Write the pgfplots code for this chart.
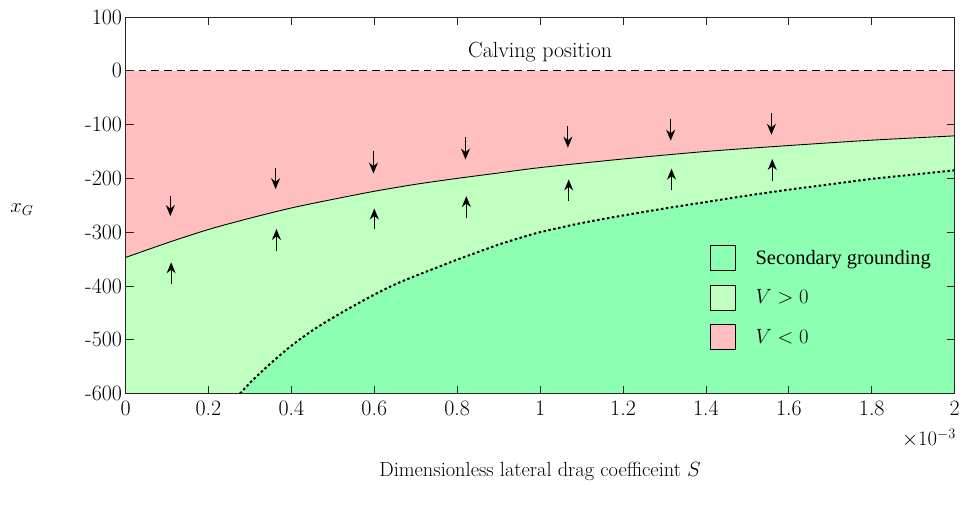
\documentclass[border=0pt]{standalone}
\usepackage{fontspec}
\usepackage{pgfplots}
\pgfplotsset{compat=1.18}
\usepgfplotslibrary{fillbetween}
\usetikzlibrary{arrows.meta}
\newfontfamily\legfont{Liberation Serif}
\definecolor{vneg}{RGB}{255,191,191}
\definecolor{vpos}{RGB}{191,255,191}
\definecolor{secg}{RGB}{140,255,178}
\definecolor{axgray}{RGB}{38,38,38}

\pgfplotstableread{
x y
0.000 -347
0.100 -320
0.200 -295
0.300 -274
0.400 -255
0.500 -239
0.600 -224
0.700 -211
0.800 -200
0.900 -190
1.000 -180
1.200 -164
1.400 -150
1.600 -139
1.800 -129
2.000 -121
}\uppercurve

\pgfplotstableread{
x y
0.276 -600
0.300 -580
0.330 -558
0.360 -537
0.400 -511
0.450 -483
0.500 -459
0.550 -437
0.600 -416
0.650 -397
0.700 -381
0.750 -366
0.800 -351
0.850 -337
0.900 -323
0.950 -311
1.000 -300
1.100 -283
1.200 -269
1.300 -256
1.400 -244
1.500 -232
1.600 -221
1.700 -211
1.800 -201
1.900 -193
2.000 -185
}\dotcurve

\pgfplotstableread{
x y u v
0.108 -233 0 -37
0.362 -180 0 -40
0.598 -149 0 -42
0.820 -123 0 -42
1.067 -103 0 -40
1.315 -89 0 -41
1.558 -78 0 -41
0.110 -396 0 40
0.364 -335 0 41
0.600 -294 0 38
0.822 -273 0 40
1.069 -242 0 40
1.317 -222 0 40
1.560 -205 0 41
}\arrows

\begin{document}
\begin{tikzpicture}
\begin{axis}[
  scale only axis,
  width=832pt, height=378pt,
  xmin=0, xmax=2, ymin=-600, ymax=100,
  axis on top,
  clip=false,
  font=\fontsize{22}{26}\selectfont,
  axis line style={axgray, line width=0.8pt},
  tick style={axgray, line width=0.8pt},
  major tick length=8pt,
  tick align=inside,
  xtick={0,0.2,0.4,0.6,0.8,1,1.2,1.4,1.6,1.8,2},
  xticklabels={0,0.2,0.4,0.6,0.8,1,1.2,1.4,1.6,1.8,2},
  xticklabel style={yshift=-4pt},
  ytick={-600,-500,-400,-300,-200,-100,0,100},
  yticklabels={{-600},{-500},{-400},{-300},{-200},{-100},{0},{100}},
  scaled x ticks=false,
  xlabel={Dimensionless lateral drag coefficeint $S$},
  xlabel style={at={(axis description cs:0.5,-0.207)}, anchor=center, font=\fontsize{20.5}{24}\selectfont},
  ylabel={$x_G$},
  ylabel style={at={(axis description cs:-0.125,0.489)}, anchor=center, rotate=-90},
  legend style={draw=none, fill=none, at={(axis description cs:0.701,0.40)}, anchor=north west,
    font=\legfont\fontsize{20.5}{24}\selectfont, row sep=14pt,
    nodes={inner sep=0pt}, column sep=0pt},
  legend cell align=left,
  legend image code/.code={\draw[#1, line width=0.8pt] (0pt,-12.5pt) rectangle (25pt,12.5pt);},
]
\addplot[name path=upper, draw=none, smooth, forget plot] table {\uppercurve};
\addplot[name path=dotc, draw=none, smooth, forget plot] table {\dotcurve};
\path[name path=zeroline] (axis cs:0,0) -- (axis cs:2,0);
\path[name path=bottom] (axis cs:0,-600) -- (axis cs:2,-600);
\addplot[vneg, forget plot] fill between[of=zeroline and upper];
\addplot[vpos, forget plot] fill between[of=upper and bottom];
\addplot[secg, forget plot] fill between[of=dotc and bottom];
\addplot[black, line width=0.9pt, smooth, forget plot] table {\uppercurve};
\addplot[black, line width=2pt, dash pattern=on 2.5pt off 2.5pt, smooth, forget plot] table {\dotcurve};
\addplot[black, line width=0.8pt, dash pattern=on 8pt off 5pt, forget plot] coordinates {(0,0) (2,0)};
\addplot[black, line width=1.2pt, -{Stealth[length=11pt,width=9pt]}, forget plot,
  quiver={u=\thisrow{u}, v=\thisrow{v}}] table {\arrows};
\node[anchor=center] at (axis cs:1,35) {Calving position};
\node[anchor=center] at (axis description cs:0.969,-0.119) {$\times10^{-3}$};
\coordinate (sw) at (axis description cs:0,0);
\addlegendimage{fill=secg, draw=black}
\addlegendentry{\hspace{20pt}Secondary grounding}
\addlegendimage{fill=vpos, draw=black}
\addlegendentry{\hspace{20pt}$V>0$}
\addlegendimage{fill=vneg, draw=black}
\addlegendentry{\hspace{20pt}$V<0$}
\end{axis}
\path ([xshift=-126pt,yshift=-116pt]sw) rectangle ++(963pt,511pt);
\end{tikzpicture}
\end{document}
